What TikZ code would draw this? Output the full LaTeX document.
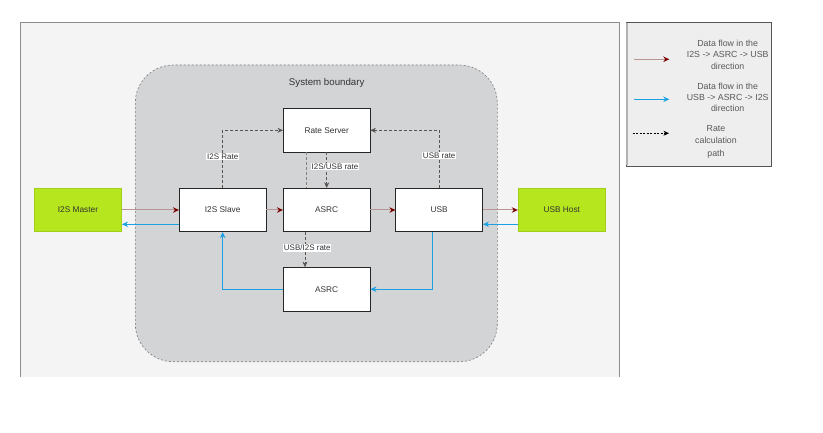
\documentclass[tikz,border=0pt]{standalone}
\usepackage{fontspec}
\setmainfont{Liberation Sans}
\usetikzlibrary{arrows.meta,positioning}
\definecolor{panelfill}{HTML}{F4F4F4}
\definecolor{panelline}{HTML}{8C8C8C}
\definecolor{sysfill}{HTML}{D3D4D6}
\definecolor{sysline}{HTML}{7A7A7A}
\definecolor{greenfill}{HTML}{B6E61E}
\definecolor{greenline}{HTML}{A2D01A}
\definecolor{redline}{HTML}{B99494}
\definecolor{redtip}{HTML}{7A0000}
\definecolor{blueline}{HTML}{1BA1E2}
\definecolor{rateline}{HTML}{555555}
\definecolor{txt}{HTML}{333333}
\definecolor{legfill}{HTML}{EEEEEE}
\definecolor{legline}{HTML}{555555}
\tikzset{
  block/.style={draw=black!85, fill=white, line width=0.8pt, minimum width=86.7pt, minimum height=43.4pt, inner sep=0pt, font=\fontsize{8.3}{10}\selectfont, text=txt},
  extblock/.style={draw=greenline, fill=greenfill, line width=0.6pt, minimum width=87.4pt, minimum height=43.4pt, inner sep=0pt, font=\fontsize{8.3}{10}\selectfont, text=txt},
  redflow/.style={draw=redline, line width=1pt, -{Stealth[length=6pt,width=5.5pt,color=redtip]}},
  blueflow/.style={draw=blueline, line width=0.9pt, -{Stealth[length=6pt,width=5.5pt]}},
  ratepath/.style={draw=rateline, line width=0.6pt, dash pattern=on 2.5pt off 2.5pt},
  rateflow/.style={ratepath, -{Stealth[length=5.5pt,width=5pt,color=rateline]}},
  ratelabel/.style={fill=white, inner sep=0.8pt, font=\fontsize{8}{9}\selectfont, text=txt},
  legtext/.style={align=center, font=\fontsize{8.8}{11.3}\selectfont, text=black!65},
}
\begin{document}
\begin{tikzpicture}[x=1pt,y=-1pt]
\useasboundingbox (0,0) rectangle (823,433);
\fill[white] (0,0) rectangle (823,433);
% outer panel
\fill[panelfill] (20,22) rectangle (619,377);
\draw[panelline, line width=0.8pt] (20,377) -- (20,22) -- (619,22) -- (619,377);
% system boundary
\draw[sysline, fill=sysfill, line width=0.6pt, dash pattern=on 2pt off 2pt, rounded corners=38pt] (135.3,65) rectangle (497.3,361.7);
\node[font=\fontsize{9.7}{11}\selectfont, text=txt] (sysl) at (326.7,83.3) {System boundary};
% nodes
\node[block] (rs) at (326.7,130.3) {Rate Server};
\node[block] (slave) at (222.7,210) {I2S Slave};
\node[block] (asrc1) at (326.7,210) {ASRC};
\node[block] (usb) at (439.2,210) {USB};
\node[block] (asrc2) at (326.7,289.2) {ASRC};
\node[extblock] (master) at (78,210) {I2S Master};
\node[extblock] (host) at (561.8,210) {USB Host};
% red data flow
\draw[redflow] (master.east) -- (slave.west);
\draw[redflow] (slave.east) -- (asrc1.west);
\draw[redflow] (asrc1.east) -- (usb.west);
\draw[redflow] (usb.east) -- (host.west);
% blue data flow
\draw[blueflow] ([yshift=-14.3pt]slave.west) -- ([yshift=-14.3pt]master.east);
\draw[blueflow] ([yshift=-14.3pt]host.west) -- ([yshift=-14.3pt]usb.east);
\draw[blueflow] ([xshift=-7.2pt]usb.south) |- (asrc2.east);
\draw[blueflow] (asrc2.west) -| (slave.south);
% rate paths
\draw[rateflow] (slave.north) |- node[ratelabel, pos=0.27] {I2S Rate} (rs.west);
\draw[rateflow] (usb.north) |- node[ratelabel, pos=0.28] {USB rate} (rs.east);
\draw[ratepath, draw=black!50] ([xshift=-20.7pt]rs.south) -- ([xshift=-20.7pt]asrc1.north);
\draw[rateflow] (rs.south) -- node[ratelabel, xshift=8.3pt, yshift=3.6pt] {I2S/USB rate} (asrc1.north);
\draw[rateflow] ([xshift=-21.7pt]asrc1.south) -- node[ratelabel, xshift=2.3pt, yshift=1.8pt] {USB/I2S rate} ([xshift=-21.7pt]asrc2.north);
% legend
\draw[legline, fill=legfill, line width=0.8pt] (626.7,22.3) rectangle (771.3,166);
\draw[black!30, line width=1.2pt] (627,22.8) -- (627,165.5);
\coordinate (ra) at (634.3,59.3); \coordinate (rb) at (669.3,59.3);
\coordinate (ba) at (634.3,99.3); \coordinate (bb) at (669.3,99.3);
\coordinate (da) at (632.7,133.3); \coordinate (db) at (669,133.3);
\draw[redflow] (ra) -- (rb);
\draw[blueflow] (ba) -- (bb);
\draw[black, line width=0.7pt, dash pattern=on 2pt off 1.5pt, -{Stealth[length=5.5pt,width=5pt]}] (da) -- (db);
\node[legtext] (l1) at (727.7,54.7) {Data flow in the\\I2S -> ASRC -> USB\\direction};
\node[legtext] (l2) at (727.7,97.5) {Data flow in the\\USB -> ASRC -> I2S\\direction};
\node[legtext, font=\fontsize{8.8}{12.3}\selectfont] (l3) at (716,141.7) {Rate\\calculation\\path};
\end{tikzpicture}
\end{document}
